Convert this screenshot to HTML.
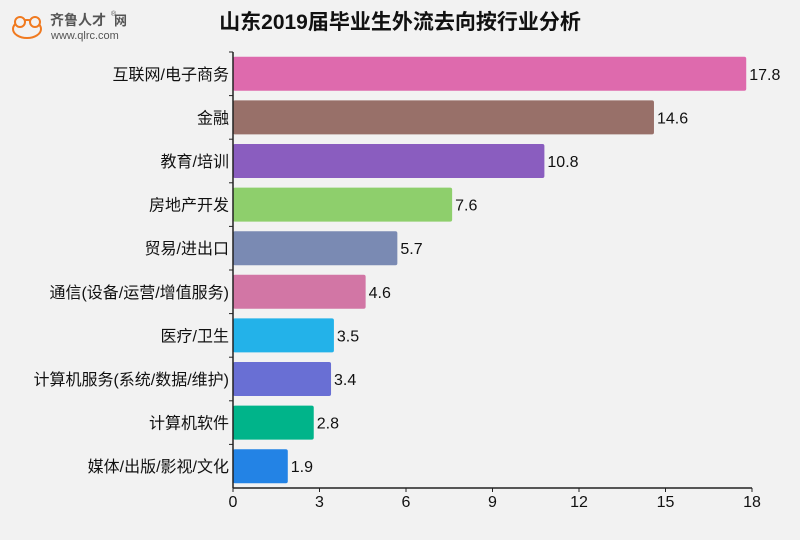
<!DOCTYPE html>
<html><head><meta charset="utf-8"><style>
body{margin:0;background:#f2f2f2;width:800px;height:535px;overflow:hidden;font-family:"Liberation Sans","Noto Sans CJK SC",sans-serif}
</style></head><body>
<svg id="c" width="800" height="535" xmlns="http://www.w3.org/2000/svg">
<rect width="800" height="535" fill="#f2f2f2"/>
<g>
<ellipse cx="27" cy="29" rx="14" ry="9" fill="none" stroke="#f07a20" stroke-width="2"/>
<circle cx="20" cy="22" r="5" fill="#f2f2f2" stroke="#f07a20" stroke-width="2"/>
<circle cx="35" cy="22" r="5" fill="#f2f2f2" stroke="#f07a20" stroke-width="2"/>
<text x="50" y="25" font-size="14" font-weight="bold" fill="#555">齐鲁人才</text>
<text x="114" y="25" font-size="13" font-weight="bold" fill="#555">网</text>
<text x="111" y="16" font-size="7" fill="#555">®</text>
<text x="51" y="39" font-size="11" fill="#555">www.qlrc.com</text>
</g>
<text x="400" y="29" text-anchor="middle" font-size="21" font-weight="bold" fill="#111">山东2019届毕业生外流去向按行业分析</text>
<g id="plot"></g>
</svg>
<script>
const categories=["互联网/电子商务","金融","教育/培训","房地产开发","贸易/进出口","通信(设备/运营/增值服务)","医疗/卫生","计算机服务(系统/数据/维护)","计算机软件","媒体/出版/影视/文化"];
const values=[17.8,14.6,10.8,7.6,5.7,4.6,3.5,3.4,2.8,1.9];
const barColors=["#de6aad","#987069","#8a5dbf","#8ecf6c","#7a8ab3","#d276a5","#23b2e9","#696fd4","#00b48a","#2383e5"];
const xTicks=[0,3,6,9,12,15,18];
const NS="http://www.w3.org/2000/svg";
const g=document.getElementById("plot");
const x0=233,x1=752,xMax=18,yTop=52,step=43.6,axisY=488;
const xs=v=>x0+(v/xMax)*(x1-x0);
const yc=i=>yTop+step*(i+0.5);
function mk(t,a){const e=document.createElementNS(NS,t);for(const k in a)e.setAttribute(k,a[k]);g.appendChild(e);return e;}
categories.forEach((c,i)=>{
 const r=mk("rect",{x:x0,y:yc(i)-17,width:xs(values[i])-x0,height:34,rx:2,fill:barColors[i]});
 
 
 const l=mk("text",{x:x0-4,y:yc(i)+6,"text-anchor":"end","font-size":16,fill:"#111"});l.textContent=c;
 
 
 const v=mk("text",{x:xs(values[i])+3,y:yc(i)+6,"font-size":16,fill:"#111"});v.textContent=values[i];
 
 
 const tk=mk("line",{x1:x0-4,x2:x0,y1:yTop+step*i,y2:yTop+step*i,stroke:"#222"});
 
 
});
const ya=mk("line",{x1:x0,x2:x0,y1:yTop,y2:axisY,stroke:"#222","stroke-width":1.5});


const xa=mk("line",{x1:x0,x2:x1,y1:axisY,y2:axisY,stroke:"#222","stroke-width":1.5});


xTicks.forEach(t=>{
 const tk=mk("line",{x1:xs(t),x2:xs(t),y1:axisY,y2:axisY+4,stroke:"#222"});
 
 
 const l=mk("text",{x:xs(t),y:axisY+19,"text-anchor":"middle","font-size":16,fill:"#111"});l.textContent=t;
 
 
});
</script>
</body></html>
